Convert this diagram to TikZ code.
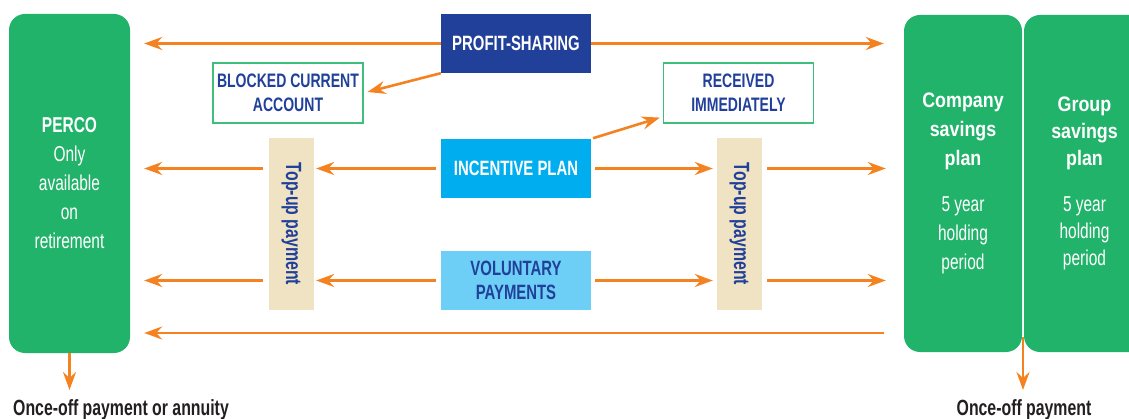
\documentclass[tikz,border=0pt]{standalone}
\usepackage{fontspec}
\setmainfont{Liberation Sans}[FakeStretch=0.72]
\newfontfamily\wideface{Liberation Sans}[FakeStretch=0.85]
\usepackage{tikz}
\usetikzlibrary{arrows.meta}

\definecolor{planGreen}{HTML}{22B36B}
\definecolor{flowOrange}{HTML}{F58220}
\definecolor{navyInk}{HTML}{21409A}
\definecolor{cyanBox}{HTML}{00AEEF}
\definecolor{skyBox}{HTML}{6DCFF6}
\definecolor{topupBeige}{HTML}{F0E3C4}
\definecolor{frameGreen}{HTML}{3DBE7A}
\definecolor{inkBlack}{HTML}{231F20}

\newcommand{\fsz}[2]{\fontsize{#1}{#2}\selectfont}
\newcommand{\planhead}[1]{{\wideface\bfseries\fsz{21}{28}#1}}

\begin{document}
\begin{tikzpicture}[x=1pt, y=-1pt,
    every node/.style={inner sep=0pt, align=center},
    flow/.style={draw=flowOrange, line width=2.6pt,
                 -{Stealth[length=18pt, width=13pt, inset=6pt]}},
    plan/.style={fill=planGreen, rounded corners=16pt, text=white},
    source/.style={minimum width=150pt, minimum height=59pt,
                   font=\bfseries\fsz{20.7}{24}},
    note/.style={draw=frameGreen, line width=1.2pt, fill=white, text=navyInk,
                 minimum width=150pt, minimum height=60pt,
                 font=\bfseries\fsz{19.5}{24}},
    topup/.style={fill=topupBeige, minimum width=45pt, minimum height=172pt}]
  \useasboundingbox (0,0) rectangle (1129,419);

  % Savings plans
  \node[plan, minimum width=121pt, minimum height=339pt, font=\fsz{21.5}{29}]
    (perco) at (69.5,183.5)
    {\textbf{PERCO}\\Only\\available\\on\\retirement};
  \node[plan, minimum width=118pt, minimum height=337pt, font=\fsz{21.5}{29}]
    (company) at (963,183.5)
    {\planhead{Company}\\\planhead{savings}\\\planhead{plan}\\[17pt]5 year\\holding\\period};
  \node[plan, minimum width=121pt, minimum height=337pt, font=\fsz{21.5}{27}]
    (group) at (1084.5,183.5)
    {\planhead{Group}\\\planhead{savings}\\\planhead{plan}\\[19pt]5 year\\holding\\period};

  % Sources of money
  \node[source, fill=navyInk, text=white] (profit) at (516,43.5) {PROFIT-SHARING};
  \node[source, fill=cyanBox, text=white] (incentive) at (516,168.5) {INCENTIVE PLAN};
  \node[source, fill=skyBox, text=navyInk] (voluntary) at (516,280.5) {VOLUNTARY\\PAYMENTS};

  % Side outcomes
  \node[note] (blocked) at (288,93) {BLOCKED CURRENT\\ACCOUNT};
  \node[note] (received) at (738.5,93) {RECEIVED\\IMMEDIATELY};

  % Top-up bars
  \node[topup] (topupL) at (291.5,224) {};
  \node[rotate=-90, text=navyInk, font=\bfseries\fsz{22}{24}] (topupLtxt)
    at (topupL) {Top-up payment};
  \node[topup] (topupR) at (739.5,224) {};
  \node[rotate=-90, text=navyInk, font=\bfseries\fsz{22}{24}] (topupRtxt)
    at (topupR) {Top-up payment};

  % Profit-sharing flows
  \draw[flow, shorten >=14pt] (profit.west) -- (profit.west -| perco.east);
  \draw[flow, shorten >=20pt] (profit.east) -- (profit.east -| company.west);
  \draw[flow, shorten >=4pt] (profit.south west) -- (blocked.east);

  % Incentive plan flows
  \draw[flow, shorten <=5pt, shorten >=2pt] (incentive.west) -- (incentive.west -| topupL.east);
  \draw[flow, shorten <=6pt, shorten >=14pt] (incentive -| topupL.west) -- (incentive -| perco.east);
  \draw[flow, shorten <=4pt, shorten >=4pt] (incentive.east) -- (incentive.east -| topupR.west);
  \draw[flow, shorten <=5pt, shorten >=18pt] (incentive -| topupR.east) -- (incentive -| company.west);
  \draw[flow, shorten <=2pt] (incentive.north east) -- ([shift={(-3pt,6pt)}]received.south west);

  % Voluntary payment flows
  \draw[flow, shorten <=5pt, shorten >=2pt] (voluntary.west) -- (voluntary.west -| topupL.east);
  \draw[flow, shorten <=6pt, shorten >=14pt] (voluntary -| topupL.west) -- (voluntary -| perco.east);
  \draw[flow, shorten <=4pt, shorten >=4pt] (voluntary.east) -- (voluntary.east -| topupR.west);
  \draw[flow, shorten <=5pt, shorten >=18pt] (voluntary -| topupR.east) -- (voluntary -| company.west);

  % Transfer back to PERCO
  \coordinate (transfer) at (0,333);
  \draw[flow, shorten <=20pt, shorten >=14pt] (transfer -| company.west) -- (transfer -| perco.east);

  % Exits
  \coordinate (percoOut) at (69.5,390);
  \coordinate (planSplit) at (1023,337);
  \coordinate (planOut) at (1023,390);
  \draw[flow] (perco.south) -- (percoOut);
  \draw[flow] (planSplit) -- (planOut);
  \node[anchor=base west, text=inkBlack, font=\bfseries\fsz{22}{24}] (annuity)
    at (13,415) {Once-off payment or annuity};
  \node[anchor=base, text=inkBlack, font=\bfseries\fsz{22}{24}] (lumpsum)
    at (1024,415) {Once-off payment};
\end{tikzpicture}
\end{document}
